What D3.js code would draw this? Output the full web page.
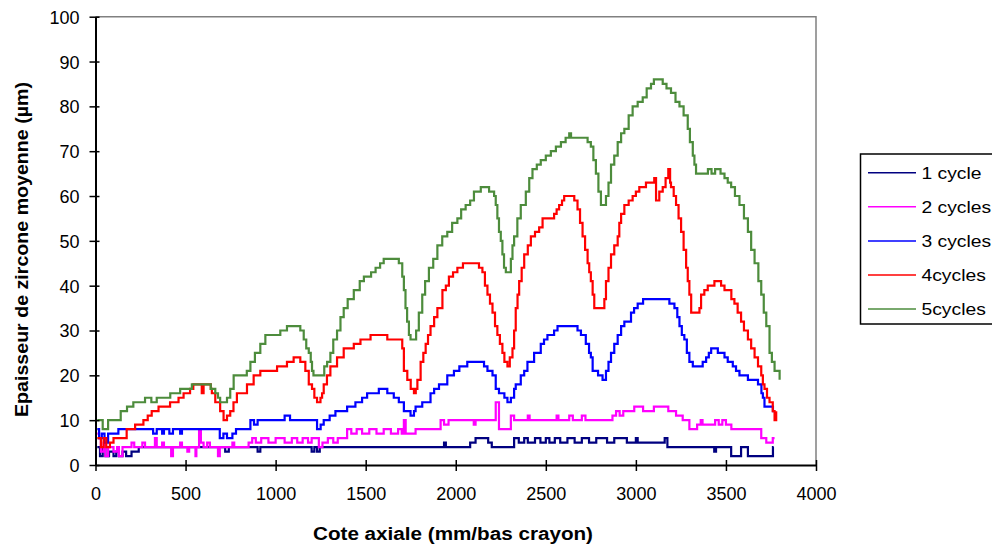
<!DOCTYPE html>
<html>
<head>
<meta charset="utf-8">
<script src="https://cdn.jsdelivr.net/npm/d3@7"></script>
<style>
  body { margin: 0; background: #fff; }
  svg text { font-family: "Liberation Sans", Arial, sans-serif; fill: #000; }
</style>
</head>
<body>
<div id="chart"></div>
<script>
// step breakpoints [cote axiale (mm), epaisseur (µm)]
const cycle1 = [[10,4],[25,2],[40,4],[55,2],[75,3],[100,2],[115,3],[130,2],[150,3],[170,2],[200,3],[240,4],[720,3],[740,4],[900,3],[915,4],[1200,3],[1215,4],[1230,3],[1245,4],[1935,5],[1945,4],[2080,5],[2110,6],[2180,5],[2200,4],[2324,6],[2350,5],[2380,6],[2400,5],[2440,6],[2470,5],[2500,6],[2520,5],[2550,6],[2580,5],[2620,6],[2660,5],[2700,6],[2740,5],[2780,6],[2840,5],[2880,6],[2950,5],[3000,6],[3010,5],[3160,6],[3175,4],[3435,3],[3445,4],[3529,2],[3584,4],[3622,2],[3761,4],[3765,4]];

const cycle2 = [[10,7],[20,6],[30,3],[45,5],[55,2],[70,4],[100,3],[120,4],[130,2],[150,4],[200,5],[215,4],[260,5],[275,4],[330,6],[340,4],[370,5],[380,4],[420,2],[430,4],[470,5],[480,4],[510,3],[520,4],[555,2],[560,4],[575,8],[585,5],[600,4],[620,5],[635,4],[680,2],[690,4],[760,5],[770,4],[850,5],[870,6],[890,5],[920,6],[960,5],[1000,6],[1050,5],[1090,6],[1120,5],[1150,6],[1180,5],[1200,6],[1240,4],[1260,5],[1290,6],[1320,5],[1345,6],[1397,8],[1420,7],[1450,8],[1480,7],[1520,8],[1560,7],[1600,8],[1640,7],[1680,8],[1700,7],[1712,10],[1722,7],[1777,8],[1916,10],[1935,9],[1960,10],[2100,9],[2110,10],[2222,14],[2240,8],[2306,11],[2324,10],[2400,11],[2410,10],[2560,11],[2570,10],[2630,11],[2650,10],[2700,11],[2720,10],[2870,11],[2890,12],[2910,11],[2930,12],[2991,13],[3040,12],[3100,13],[3180,12],[3223,11],[3260,10],[3297,8],[3340,9],[3360,10],[3370,9],[3440,10],[3460,9],[3480,10],[3500,9],[3530,8],[3696,6],[3724,5],[3760,6],[3770,6]];

const cycle3 = [[10,8],[20,6],[35,7],[50,5],[70,7],[127,8],[320,7],[340,8],[370,7],[380,8],[410,7],[430,8],[470,7],[480,8],[690,6],[710,7],[730,6],[760,7],[780,8],[860,10],[880,9],[900,10],[1050,11],[1080,10],[1230,8],[1250,9],[1267,10],[1300,11],[1332,12],[1397,13],[1443,14],[1480,15],[1508,16],[1573,17],[1620,16],[1656,15],[1684,14],[1712,12],[1749,11],[1768,12],[1777,13],[1814,14],[1860,16],[1880,17],[1907,18],[1953,20],[1990,21],[2020,22],[2064,23],[2157,22],[2176,21],[2204,20],[2222,17],[2240,16],[2270,15],[2287,14],[2306,15],[2324,17],[2333,18],[2361,20],[2380,21],[2398,23],[2435,25],[2472,27],[2490,28],[2509,29],[2546,30],[2565,31],[2676,30],[2695,29],[2722,27],[2740,25],[2750,24],[2760,21],[2790,20],[2815,19],[2834,21],[2848,23],[2862,25],[2880,27],[2899,29],[2918,31],[2936,32],[2973,34],[2990,35],[3010,36],[3040,37],[3186,36],[3214,35],[3230,33],[3242,31],[3255,29],[3269,28],[3283,25],[3297,23],[3316,22],[3371,23],[3390,24],[3405,25],[3418,26],[3455,25],[3492,24],[3510,23],[3538,22],[3556,21],[3575,20],[3622,19],[3678,18],[3697,16],[3705,15],[3714,13],[3761,12],[3770,12]];

const cycle4 = [[10,6],[30,4],[45,6],[60,4],[80,5],[100,6],[173,8],[220,9],[266,10],[290,11],[312,12],[350,13],[414,14],[461,15],[489,16],[525,17],[543,18],[590,16],[600,18],[640,17],[646,16],[665,14],[692,12],[711,10],[730,11],[748,12],[766,14],[785,16],[841,18],[878,20],[915,21],[1008,22],[1063,23],[1100,24],[1137,23],[1165,21],[1184,18],[1202,17],[1215,15],[1230,14],[1249,15],[1258,16],[1267,18],[1285,20],[1304,22],[1341,24],[1378,26],[1434,27],[1471,28],[1527,29],[1620,28],[1703,26],[1712,21],[1731,19],[1750,17],[1768,16],[1778,17],[1787,19],[1805,23],[1820,25],[1833,27],[1846,29],[1860,31],[1880,33],[1898,35],[1926,39],[1945,40],[1962,42],[1985,43],[2009,44],[2040,45],[2129,44],[2148,43],[2162,40],[2176,38],[2190,36],[2204,34],[2218,31],[2231,29],[2245,27],[2259,25],[2270,23],[2287,22],[2300,24],[2315,26],[2324,30],[2333,35],[2343,38],[2352,41],[2366,44],[2380,47],[2400,49],[2417,51],[2440,52],[2463,53],[2482,55],[2546,56],[2560,57],[2574,58],[2590,59],[2602,60],[2658,59],[2676,57],[2690,54],[2704,51],[2718,48],[2732,45],[2741,43],[2750,41],[2760,38],[2769,35],[2825,37],[2834,41],[2848,44],[2862,47],[2880,49],[2899,51],[2908,54],[2918,56],[2936,58],[2960,59],[2982,60],[3000,61],[3019,62],[3056,63],[3102,64],[3112,59],[3130,61],[3149,62],[3165,64],[3180,66],[3190,63],[3195,62],[3210,60],[3223,58],[3237,55],[3251,52],[3265,48],[3279,44],[3288,41],[3297,38],[3307,34],[3353,35],[3362,38],[3380,39],[3399,40],[3436,41],[3473,40],[3492,39],[3530,37],[3547,36],[3565,34],[3584,32],[3600,30],[3622,28],[3640,26],[3659,24],[3678,22],[3696,20],[3705,18],[3714,17],[3728,15],[3742,14],[3760,12],[3770,10],[3779,12]];

const cycle5 = [[10,10],[40,8],[70,10],[140,12],[175,13],[210,14],[275,15],[310,14],[340,15],[415,16],[470,17],[535,18],[640,17],[665,16],[680,15],[692,14],[730,15],[748,17],[767,20],[840,21],[860,23],[885,25],[915,27],[943,29],[1026,30],[1063,31],[1137,30],[1156,28],[1170,26],[1184,25],[1195,23],[1202,21],[1210,20],[1270,22],[1286,23],[1304,25],[1320,28],[1341,30],[1360,33],[1378,35],[1400,37],[1434,39],[1467,41],[1490,42],[1530,43],[1555,44],[1580,45],[1600,46],[1684,45],[1703,42],[1712,39],[1721,35],[1730,32],[1740,29],[1749,28],[1780,30],[1795,34],[1814,38],[1830,41],[1851,44],[1875,46],[1898,49],[1925,51],[1953,52],[1980,54],[2009,55],[2030,57],[2055,58],[2080,59],[2101,61],[2139,62],[2185,61],[2213,60],[2222,58],[2231,55],[2240,52],[2250,50],[2259,47],[2268,44],[2278,43],[2306,46],[2315,49],[2324,51],[2342,55],[2361,58],[2389,61],[2408,64],[2426,66],[2450,67],[2472,68],[2500,69],[2528,70],[2556,71],[2584,72],[2610,73],[2630,74],[2640,73],[2732,72],[2750,71],[2764,68],[2778,65],[2792,61],[2806,58],[2834,60],[2848,63],[2862,67],[2880,69],[2899,72],[2918,74],[2936,75],[2960,78],[2982,80],[3010,81],[3038,82],[3060,84],[3084,85],[3100,86],[3149,85],[3170,84],[3195,83],[3220,81],[3242,80],[3265,78],[3288,75],[3300,72],[3316,69],[3325,67],[3334,65],[3400,66],[3420,65],[3440,66],[3470,65],[3492,64],[3510,63],[3529,62],[3550,60],[3575,58],[3600,55],[3622,52],[3640,48],[3659,45],[3680,41],[3696,38],[3710,34],[3724,31],[3742,25],[3755,23],[3770,21],[3798,19]];

const seriesNames = ["1 cycle", "2 cycles", "3 cycles", "4cycles", "5cycles"];
const seriesData = [cycle1, cycle2, cycle3, cycle4, cycle5];
const seriesColors = ["#000080", "#ff00ff", "#0000ff", "#ff0000", "#4d8c3c"];

const xTicks = [0, 500, 1000, 1500, 2000, 2500, 3000, 3500, 4000];
const yTicks = [0, 10, 20, 30, 40, 50, 60, 70, 80, 90, 100];

const width = 992, height = 546;
const plot = { left: 95.5, right: 816, top: 16.7, bottom: 465 };
const tickFont = "18px";

const svg = d3.select("#chart").append("svg")
  .attr("width", width)
  .attr("height", height)
  .style("display", "block");

svg.append("rect").attr("width", width).attr("height", height).attr("fill", "#fff");

const x = d3.scaleLinear().domain([0, 4000]).range([plot.left, plot.right]);
const y = d3.scaleLinear().domain([0, 100]).range([plot.bottom, plot.top]);

// plot frame (top and right in grey)
svg.append("path")
  .attr("d", `M${plot.left},${plot.top}H${plot.right}V${plot.bottom}`)
  .attr("fill", "none")
  .attr("stroke", "#808080")
  .attr("stroke-width", 1.5);

// series
const line = d3.line()
  .x((d) => x(d[0]))
  .y((d) => y(d[1]))
  .curve(d3.curveStepAfter);

svg.append("g")
  .selectAll("path")
  .data(seriesData)
  .join("path")
  .attr("d", line)
  .attr("fill", "none")
  .attr("stroke", (_, i) => seriesColors[i])
  .attr("stroke-width", 2.2)
  .attr("stroke-linejoin", "miter");

// axes
const yAxis = svg.append("g")
  .attr("transform", `translate(${plot.left},0)`)
  .call(d3.axisLeft(y).tickValues(yTicks).tickSize(6).tickSizeOuter(0));

yAxis.select(".domain").attr("stroke", "#000").attr("stroke-width", 2);
yAxis.selectAll(".tick line").attr("x1", 4).attr("x2", -6).attr("stroke", "#000").attr("stroke-width", 1.5);
yAxis.selectAll(".tick text")
  .attr("x", -16)
  .attr("dy", "0.36em")
  .style("font-size", tickFont)
  .style("font-family", "'Liberation Sans', Arial, sans-serif")
  .attr("fill", "#000");

const xAxis = svg.append("g")
  .attr("transform", `translate(0,${plot.bottom})`)
  .call(d3.axisBottom(x).tickValues(xTicks).tickFormat(d3.format("d")).tickSize(6).tickSizeOuter(0));

xAxis.select(".domain").attr("stroke", "#000").attr("stroke-width", 2);
xAxis.selectAll(".tick line").attr("y1", -5).attr("y2", 6).attr("stroke", "#000").attr("stroke-width", 1.5);
xAxis.selectAll(".tick text")
  .attr("y", 35)
  .attr("dy", "0")
  .style("font-size", tickFont)
  .style("font-family", "'Liberation Sans', Arial, sans-serif")
  .attr("fill", "#000");

// axis titles
svg.append("text")
  .attr("x", 453)
  .attr("y", 540)
  .attr("text-anchor", "middle")
  .attr("textLength", 280)
  .attr("lengthAdjust", "spacingAndGlyphs")
  .style("font-size", "18px")
  .style("font-weight", "bold")
  .text("Cote axiale (mm/bas crayon)");

svg.append("text")
  .attr("transform", "translate(27.5,249.5) rotate(-90)")
  .attr("text-anchor", "middle")
  .attr("textLength", 335)
  .attr("lengthAdjust", "spacingAndGlyphs")
  .style("font-size", "18px")
  .style("font-weight", "bold")
  .text("Epaisseur de zircone moyenne (µm)");

// legend
const legend = svg.append("g");

legend.append("rect")
  .attr("x", 860.5)
  .attr("y", 154)
  .attr("width", 160)
  .attr("height", 170)
  .attr("fill", "#fff")
  .attr("stroke", "#000")
  .attr("stroke-width", 1.5);

const items = legend.selectAll("g.item")
  .data(seriesNames)
  .join("g")
  .attr("class", "item")
  .attr("transform", (_, i) => `translate(0,${172.7 + i * 34.1})`);

items.append("line")
  .attr("x1", 868)
  .attr("x2", 916)
  .attr("stroke", (_, i) => seriesColors[i])
  .attr("stroke-width", 1.5);

items.append("text")
  .attr("transform", "translate(921.5,0) scale(1.17,1)")
  .attr("dy", "0.36em")
  .style("font-size", "16.5px")
  .text((d) => d);
</script>
</body>
</html>
